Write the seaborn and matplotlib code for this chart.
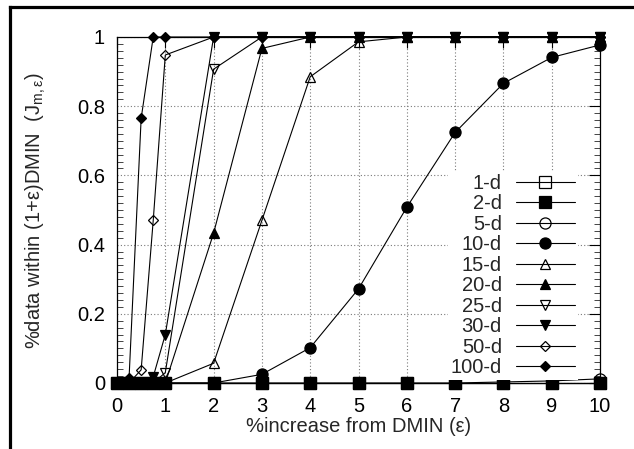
import numpy as np
import pandas as pd
import matplotlib
matplotlib.use("Agg")
import matplotlib.pyplot as plt
import seaborn as sns
from matplotlib.lines import Line2D
from matplotlib.ticker import MultipleLocator

# ---------------- data ----------------
eps = [0, 0.25, 0.5, 0.75, 1, 2, 3, 4, 5, 6, 7, 8, 9, 10]
d1 = [0, 0, 0, 0, 0, 0, 0, 0, 0, 0, 0, 0, 0, 0]
d2 = [0, 0, 0, 0, 0, 0, 0, 0, 0, 0, 0, 0, 0, 0]
d5 = [0, 0, 0, 0, 0, 0, 0, 0, 0, 0, 0, 0.003, 0.006, 0.012]
d10 = [0, 0, 0, 0, 0, 0, 0.025, 0.102, 0.272, 0.508, 0.724, 0.866, 0.941, 0.977]
d15 = [0, 0, 0, 0, 0, 0.057, 0.47, 0.885, 0.986, 1, 1, 1, 1, 1]
d20 = [0, 0, 0, 0, 0, 0.433, 0.967, 1, 1, 1, 1, 1, 1, 1]
d25 = [0, 0, 0, 0, 0.03, 0.907, 1, 1, 1, 1, 1, 1, 1, 1]
d30 = [0, 0, 0, 0.018, 0.14, 1, 1, 1, 1, 1, 1, 1, 1, 1]
d50 = [0, 0, 0.038, 0.47, 0.948, 1, 1, 1, 1, 1, 1, 1, 1, 1]
d100 = [0, 0.015, 0.765, 1, 1, 1, 1, 1, 1, 1, 1, 1, 1, 1]

labels = ["1-d", "2-d", "5-d", "10-d", "15-d", "20-d", "25-d", "30-d", "50-d", "100-d"]
values = [d1, d2, d5, d10, d15, d20, d25, d30, d50, d100]
markers = ["s", "s", "o", "o", "^", "^", "v", "v", "D", "D"]
filled = [False, True, False, True, False, True, False, True, False, True]

xticks = [0, 1, 2, 3, 4, 5, 6, 7, 8, 9, 10]
yticks = [0, 0.2, 0.4, 0.6, 0.8, 1]
yticklabels = ["0", "0.2", "0.4", "0.6", "0.8", "1"]

# ---------------- style ----------------
sns.set_theme(style="white")
plt.rcParams["font.family"] = ["Liberation Sans", "DejaVu Sans"]
plt.rcParams["mathtext.fontset"] = "custom"
plt.rcParams["mathtext.rm"] = "Liberation Sans"
FS = 14.5

fig = plt.figure(figsize=(6.34, 4.49), dpi=100)
ax = fig.add_axes([117 / 634, 1 - 383 / 449, 483 / 634, 346 / 449])

df = pd.DataFrame({lab: v for lab, v in zip(labels, values)})
df["eps"] = eps

for i, (lab, m, f) in enumerate(zip(labels, markers, filled)):
    ms = 5.6 if m == "D" else (8.0 if m in ("s", "o") else 7.5)
    z = 20 if lab == "2-d" else 3 + i * 0.1
    sns.lineplot(
        data=df, x="eps", y=lab, ax=ax, estimator=None, sort=False,
        color="black", lw=0.8, marker=m, ms=ms,
        mfc="black" if f else "none", mec="black", mew=0.9,
        zorder=z, label=lab, legend=False, clip_on=False,
    )

ax.set_xlim(0, 10)
ax.set_ylim(0, 1)
ax.set_xticks(xticks)
ax.set_yticks(yticks)
ax.set_yticklabels(yticklabels)
ax.yaxis.set_minor_locator(MultipleLocator(0.02))
ax.tick_params(which="major", direction="in", length=8, width=0.8,
               top=True, right=True, labelsize=FS, colors="black")
ax.tick_params(axis="y", which="major", pad=8.6)
ax.tick_params(axis="x", which="major", pad=10.4)
ax.tick_params(which="minor", direction="in", length=4, width=0.6,
               left=True, right=True)
ax.set_axisbelow(True)
ax.grid(True, which="major", color="#7a7a7a", ls=(0, (1, 2)), lw=0.8)
for s in ax.spines.values():
    s.set_color("black")
    s.set_linewidth(0.9)

ax.set_xlabel("%increase from DMIN (ε)", fontsize=FS)
ax.set_ylabel("%data within (1+ε)DMIN  (J$_{\\mathregular{m,ε}}$)", fontsize=FS)
ax.xaxis.set_label_coords(0.5, -0.099)
ax.yaxis.set_label_coords(-0.143, 0.5)

handles, labs = ax.get_legend_handles_labels()
leg = ax.legend(handles, labs, loc="upper right", bbox_to_anchor=(0.9545, 0.614),
                borderaxespad=0, markerfirst=False, frameon=True,
                facecolor="white", edgecolor="none", framealpha=1,
                fancybox=False, handlelength=2.93, handletextpad=0.7,
                labelspacing=0.075, borderpad=0.15, fontsize=FS, numpoints=1)
leg.set_zorder(30)

# figure frame (top and left edges)
fig.add_artist(Line2D([10 / 634, 10 / 634], [0, 1 - 7.3 / 449], transform=fig.transFigure,
                      color="black", lw=2.3, solid_capstyle="projecting"))
fig.add_artist(Line2D([10 / 634, 1], [1 - 7.3 / 449, 1 - 7.3 / 449], transform=fig.transFigure,
                      color="black", lw=2.3, solid_capstyle="projecting"))

fig.savefig("out.png", dpi=100, facecolor="white")
